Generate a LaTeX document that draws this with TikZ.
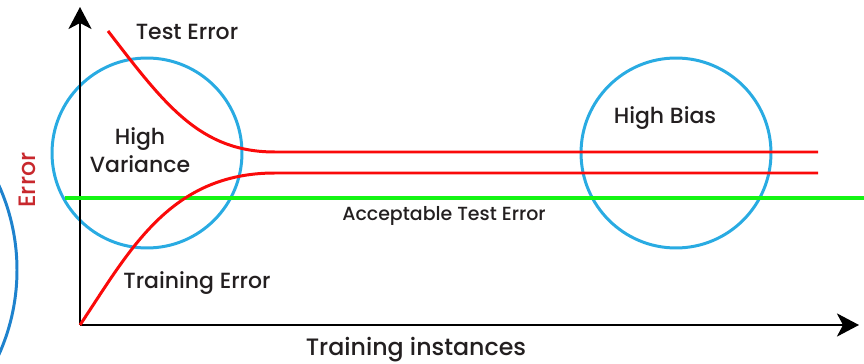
\documentclass[tikz,border=0pt]{standalone}
\usepackage{fontspec}
\setmainfont{Poppins Medium}
\usetikzlibrary{arrows.meta}
\definecolor{ringblue}{RGB}{41,171,226}
\definecolor{edgeblue}{RGB}{30,130,205}
\definecolor{curvered}{RGB}{250,10,10}
\definecolor{okgreen}{RGB}{20,245,20}
\definecolor{inkgray}{RGB}{35,31,32}
\definecolor{errred}{RGB}{200,40,45}

\begin{document}
\begin{tikzpicture}[x=0.02cm,y=-0.02cm,
    ring/.style = {draw=ringblue, circle, line width=1.7pt, minimum size=3.8cm},
    curve/.style = {curvered, line width=1.7pt},
    axis/.style = {black, line width=1.7pt, -{Stealth[length=0.44cm,width=0.46cm,inset=0.12cm]}},
    lbl/.style = {text=inkgray, font=\fontsize{12.5}{14}\selectfont, inner sep=0pt}]
				\useasboundingbox (0,0) rectangle (864,364);
				% regions
				\draw [edgeblue, line width=1.7pt] (-189,270) circle (206);
				\node[ring] (V) at (147,153) {};
				\node[ring] (B) at (676,153) {};
				% axes
				\coordinate (O) at (80,325);
				\coordinate (Ytip) at (80,7);
				\coordinate (Xtip) at (859,325);
				\draw [axis] (O) -- (Ytip);
				\draw [axis] (O) -- (Xtip);
				% acceptable level
				\coordinate (G1) at (65,198);
				\coordinate (G2) at (864,198);
				\draw [okgreen, line width=1.9pt] (G1) -- (G2);
				% test error
				\coordinate (T0) at (108,31);
				\coordinate (T1) at (275,152);
				\coordinate (T2) at (818,152);
				\draw [curve] (T0) .. controls (165,105) and (200,152) .. (T1) -- (T2);
				% training error
				\coordinate (R1) at (275,173);
				\coordinate (R2) at (818,173);
				\draw [curve] (O) .. controls (130,250) and (170,173) .. (R1) -- (R2);
				\begin{scope}[every node/.style={lbl}]
					\node (testlbl) at (187,32) {Test Error};
					\node[align=center] (varlbl) at (140,150) {High\\[2pt]Variance};
					\node (trainlbl) at (197,283) {Training Error};
					\node[font=\fontsize{10.8}{12}\selectfont] (acclbl) at (444,216) {Acceptable Test Error};
					\node (biaslbl) at (665,118) {High Bias};
					\node[font=\fontsize{13.5}{15}\selectfont] (xlbl) at (416,350) {Training instances};
					\node[text=errred, rotate=90, font=\fontsize{13.5}{15}\selectfont] (ylbl) at (27,180) {Error};
				\end{scope}
			\end{tikzpicture}
\end{document}
